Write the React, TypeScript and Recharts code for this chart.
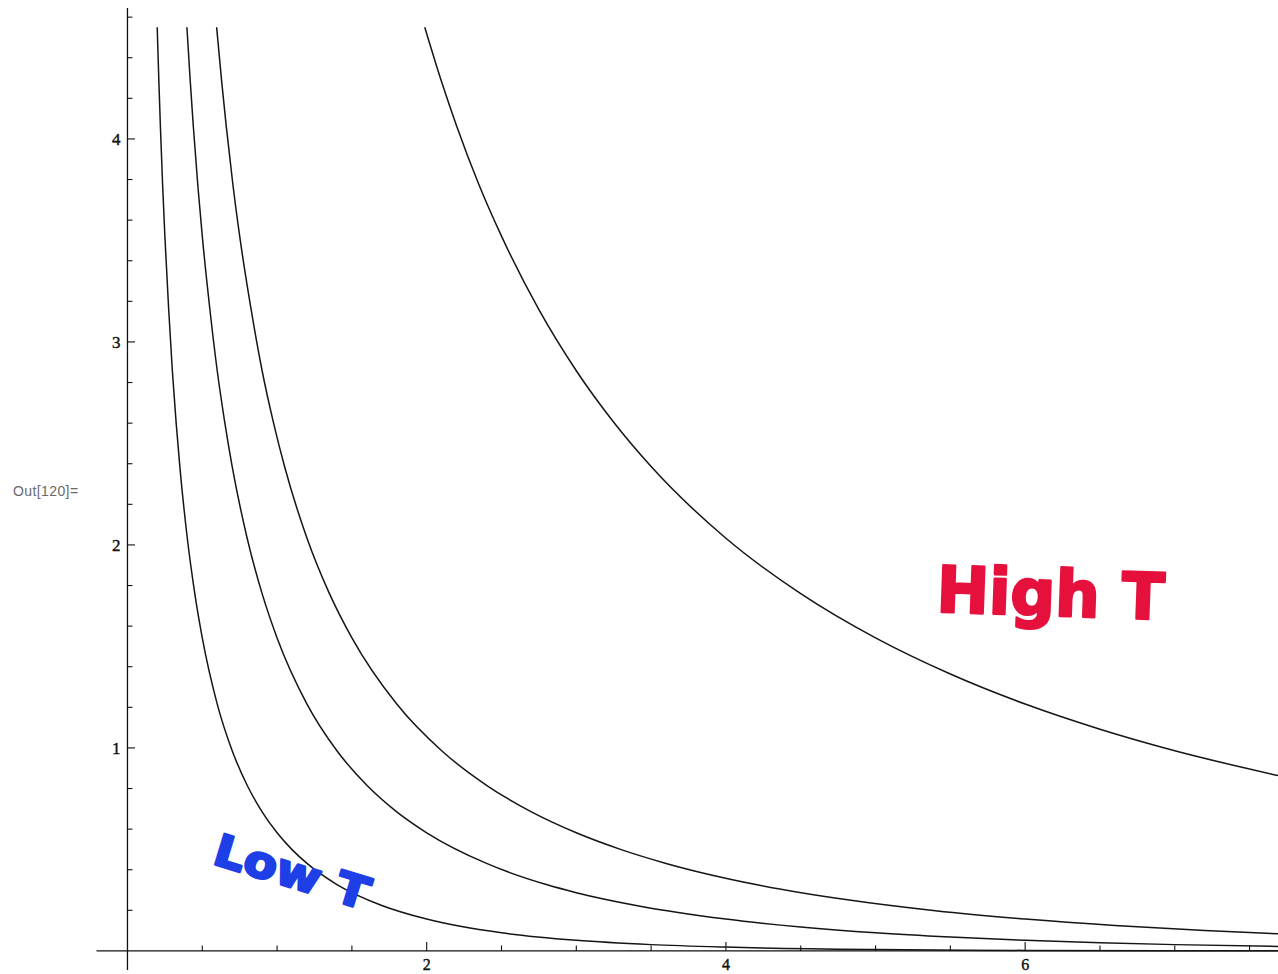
import React from 'react';
import { LineChart, Line, XAxis, YAxis, ReferenceLine, ReferenceDot } from 'recharts';

// Curves (four temperatures, lowest to highest)
const curveT1 = [
  { x: 0.1987, y: 4.55 }, { x: 0.21, y: 4.28 }, { x: 0.22, y: 4.064 }, { x: 0.235, y: 3.773 },
  { x: 0.25, y: 3.521 }, { x: 0.275, y: 3.166 }, { x: 0.3, y: 2.858 }, { x: 0.325, y: 2.605 },
  { x: 0.35, y: 2.386 }, { x: 0.4, y: 2.033 }, { x: 0.45, y: 1.760 }, { x: 0.5, y: 1.542 },
  { x: 0.6, y: 1.216 }, { x: 0.7, y: 0.986 }, { x: 0.8, y: 0.816 }, { x: 0.9, y: 0.685 },
  { x: 1.0, y: 0.582 }, { x: 1.1, y: 0.499 }, { x: 1.2, y: 0.431 }, { x: 1.4, y: 0.327 },
  { x: 1.7, y: 0.224 }, { x: 2.0, y: 0.157 }, { x: 2.5, y: 0.089 }, { x: 3.0, y: 0.052 },
  { x: 3.5, y: 0.031 }, { x: 4.0, y: 0.019 }, { x: 5.0, y: 0.007 }, { x: 6.0, y: 0.0025 },
  { x: 7.0, y: 0.0009 }, { x: 7.69, y: 0.0005 },
];
const curveT2 = [
  { x: 0.3973, y: 4.55 }, { x: 0.42, y: 4.28 }, { x: 0.44, y: 4.064 }, { x: 0.47, y: 3.773 },
  { x: 0.5, y: 3.521 }, { x: 0.55, y: 3.166 }, { x: 0.6, y: 2.858 }, { x: 0.65, y: 2.605 },
  { x: 0.7, y: 2.386 }, { x: 0.8, y: 2.033 }, { x: 0.9, y: 1.760 }, { x: 1.0, y: 1.542 },
  { x: 1.2, y: 1.216 }, { x: 1.4, y: 0.986 }, { x: 1.6, y: 0.816 }, { x: 1.8, y: 0.685 },
  { x: 2.0, y: 0.582 }, { x: 2.4, y: 0.431 }, { x: 2.8, y: 0.327 }, { x: 3.0, y: 0.287 },
  { x: 3.4, y: 0.224 }, { x: 4.0, y: 0.157 }, { x: 4.5, y: 0.118 }, { x: 5.0, y: 0.089 },
  { x: 5.5, y: 0.068 }, { x: 6.0, y: 0.052 }, { x: 6.5, y: 0.040 }, { x: 7.0, y: 0.031 },
  { x: 7.69, y: 0.022 },
];
const curveT3 = [
  { x: 0.596, y: 4.55 }, { x: 0.63, y: 4.28 }, { x: 0.66, y: 4.064 }, { x: 0.705, y: 3.773 },
  { x: 0.75, y: 3.521 }, { x: 0.825, y: 3.166 }, { x: 0.9, y: 2.858 }, { x: 0.975, y: 2.605 },
  { x: 1.05, y: 2.386 }, { x: 1.2, y: 2.033 }, { x: 1.35, y: 1.760 }, { x: 1.5, y: 1.542 },
  { x: 1.8, y: 1.216 }, { x: 2.1, y: 0.986 }, { x: 2.4, y: 0.816 }, { x: 2.7, y: 0.685 },
  { x: 3.0, y: 0.582 }, { x: 3.3, y: 0.499 }, { x: 3.6, y: 0.431 }, { x: 4.2, y: 0.327 },
  { x: 4.8, y: 0.253 }, { x: 5.4, y: 0.198 }, { x: 6.0, y: 0.157 }, { x: 6.6, y: 0.125 },
  { x: 7.2, y: 0.100 }, { x: 7.69, y: 0.084 },
];
const curveT10 = [
  { x: 1.987, y: 4.55 }, { x: 2.1, y: 4.28 }, { x: 2.2, y: 4.064 }, { x: 2.35, y: 3.773 },
  { x: 2.5, y: 3.521 }, { x: 2.75, y: 3.159 }, { x: 3.0, y: 2.858 }, { x: 3.25, y: 2.604 },
  { x: 3.5, y: 2.386 }, { x: 4.0, y: 2.033 }, { x: 4.5, y: 1.760 }, { x: 5.0, y: 1.542 },
  { x: 5.5, y: 1.364 }, { x: 6.0, y: 1.216 }, { x: 6.5, y: 1.092 }, { x: 7.0, y: 0.986 },
  { x: 7.69, y: 0.864 },
];

const curves = [curveT1, curveT2, curveT3, curveT10];

const xMajorTicks = [2, 4, 6];
const xMinorTicks = [0.5, 1, 1.5, 2.5, 3, 3.5, 4.5, 5, 5.5, 6.5, 7, 7.5];
const yMajorTicks = [1, 2, 3, 4];
const yMinorTicks = [0.2, 0.4, 0.6, 0.8, 1.2, 1.4, 1.6, 1.8, 2.2, 2.4, 2.6, 2.8, 3.2, 3.4, 3.6, 3.8, 4.2, 4.4, 4.6];

const xDomain: [number, number] = [-0.207, 7.69];
const yDomain: [number, number] = [-0.094, 4.645];

const tickFont = '"Liberation Serif", "DejaVu Serif", serif';

const xTickShape = (major: boolean, label?: string) => (p: any) => (
  <g>
    <line x1={p.cx} y1={p.cy} x2={p.cx} y2={p.cy - (major ? 9 : 5.5)} stroke="#111" strokeWidth={1.1} />
    {label ? (
      <text x={p.cx} y={p.cy + 19} textAnchor="middle" fontFamily={tickFont} fontSize={16} fill="#111" stroke="#111" strokeWidth={0.4}>
        {label}
      </text>
    ) : null}
  </g>
);

const yTickShape = (major: boolean, label?: string) => (p: any) => (
  <g>
    <line x1={p.cx} y1={p.cy} x2={p.cx + (major ? 7.5 : 5)} y2={p.cy} stroke="#111" strokeWidth={1.1} />
    {label ? (
      <text x={p.cx - 7} y={p.cy + 6} textAnchor="end" fontFamily={tickFont} fontSize={17} fill="#111" stroke="#111" strokeWidth={0.4}>
        {label}
      </text>
    ) : null}
  </g>
);

const handText = (text: string, color: string, size: number, angle: number, len: number) => (p: any) => (
  <text
    x={p.cx}
    y={p.cy}
    textAnchor="middle"
    dominantBaseline="central"
    fontFamily='"DejaVu Sans", sans-serif'
    fontWeight="bold"
    fontSize={size}
    fill={color}
    stroke={color}
    strokeWidth={2.5}
    strokeLinejoin="round"
    textLength={len}
    lengthAdjust="spacingAndGlyphs"
    transform={`rotate(${angle} ${p.cx} ${p.cy})`}
  >
    {text}
  </text>
);

export default function App() {
  return (
    <div style={{ position: 'relative', width: 1278, height: 974, background: '#fff' }}>
      <style>{'html,body{margin:0;padding:0;overflow:hidden;background:#fff}'}</style>
      <div
        style={{
          position: 'absolute',
          left: 13,
          top: 483,
          fontFamily: '"Liberation Sans", Arial, sans-serif',
          fontSize: 14,
          letterSpacing: 0.4,
          color: '#6a6a6a',
        }}
      >
        Out[120]=
      </div>
      <LineChart width={1278} height={974} margin={{ top: 8, right: 0, bottom: 4, left: 96.5 }}>
        <XAxis type="number" dataKey="x" domain={xDomain} allowDataOverflow hide />
        <YAxis type="number" dataKey="y" domain={yDomain} allowDataOverflow hide />
        <ReferenceLine x={0} stroke="#111" strokeWidth={1.3} />
        <ReferenceLine y={0} stroke="#111" strokeWidth={1.3} />
        {xMinorTicks.map((v) => (
          <ReferenceDot key={'xm' + v} x={v} y={0} r={1} shape={xTickShape(false)} />
        ))}
        {xMajorTicks.map((v) => (
          <ReferenceDot key={'xM' + v} x={v} y={0} r={1} shape={xTickShape(true, String(v))} />
        ))}
        {yMinorTicks.map((v) => (
          <ReferenceDot key={'ym' + v} x={0} y={v} r={1} shape={yTickShape(false)} />
        ))}
        {yMajorTicks.map((v) => (
          <ReferenceDot key={'yM' + v} x={0} y={v} r={1} shape={yTickShape(true, String(v))} />
        ))}
        {curves.map((d, i) => (
          <Line
            key={i}
            data={d}
            dataKey="y"
            type="monotone"
            dot={false}
            stroke="#151515"
            strokeWidth={1.5}
            isAnimationActive={false}
          />
        ))}
        <ReferenceDot x={6.17} y={1.76} r={1} shape={handText('High T', '#e5113c', 64, 2, 228)} />
        <ReferenceDot x={1.1} y={0.39} r={1} shape={handText('Low T', '#1f3fe6', 44, 17, 160)} />
      </LineChart>
    </div>
  );
}
